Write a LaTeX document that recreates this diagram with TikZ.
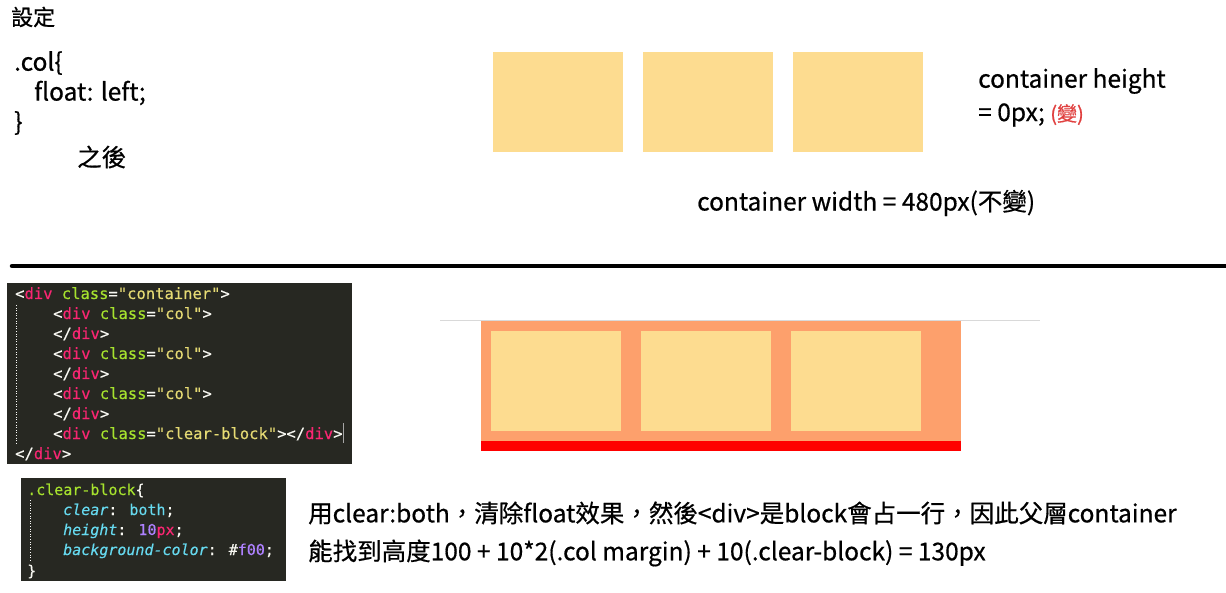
\documentclass[tikz,border=0pt]{standalone}
\usepackage{fontspec}
\setmainfont{Noto Sans CJK TC}[FakeBold=0.6]
\newfontfamily\codefont{DejaVu Sans Mono}[FakeBold=0.3]
\definecolor{colbox}{HTML}{FDDC90}
\definecolor{contbox}{HTML}{FDA06C}
\definecolor{codebg}{HTML}{272822}
\definecolor{mkpink}{HTML}{F92672}
\definecolor{mkgreen}{HTML}{A6E22E}
\definecolor{mkyellow}{HTML}{E6DB74}
\definecolor{mkwhite}{HTML}{F8F8F2}
\definecolor{mkcyan}{HTML}{66D9EF}
\definecolor{mkpurple}{HTML}{AE81FF}
\definecolor{changered}{HTML}{E0403F}
\newcommand{\tg}[1]{\textcolor{mkpink}{#1}}
\newcommand{\at}[1]{\textcolor{mkgreen}{#1}}
\newcommand{\st}[1]{\textcolor{mkyellow}{#1}}
\newcommand{\cy}[1]{\textcolor{mkcyan}{#1}}
\newcommand{\pu}[1]{\textcolor{mkpurple}{#1}}
\newcommand{\itc}[1]{\textcolor{mkcyan}{{\fontspec{DejaVu Sans Mono Oblique}[FakeBold=0.3]#1}}}
\tikzset{
  colstyle/.style={fill=colbox, draw=none, minimum width=130pt, minimum height=100pt, inner sep=0pt},
  maintext/.style={anchor=west, inner sep=0pt, font=\fontsize{24.5}{28}\selectfont},
  codeline/.style={anchor=base west, inner sep=0pt, text=mkwhite, font=\codefont\fontsize{15.5}{20}\selectfont},
  cssline/.style={anchor=base west, inner sep=0pt, text=mkwhite, font=\codefont\fontsize{15}{20}\selectfont},
}
\begin{document}
\begin{tikzpicture}[x=1pt,y=-1pt]
\useasboundingbox (0,0) rectangle (1226,593);
% top-left text
\node[maintext, font=\fontsize{22}{24}\selectfont] (setting) at (11,17) {設定};
\node[maintext] (c1) at (14,63) {.col\{};
\node[maintext] (c2) at (34,93) {float: left;};
\node[maintext] (c3) at (14,123) {\}};
\node[maintext] (after) at (77,157) {之後};
% top boxes
\node[colstyle, anchor=north west] (t1) at (493,52) {};
\node[colstyle, anchor=north west] (t2) at (643,52) {};
\node[colstyle, anchor=north west] (t3) at (793,52) {};
\node[maintext] (ch1) at (978,81) {container height};
\node[maintext] (ch2) at (978,115) {= 0px; \textcolor{changered}{\fontsize{20}{22}\selectfont(變)}};
\node[maintext] (cw) at (697,203) {container width = 480px(不變)};
% divider
\coordinate (dl) at (12,266);
\coordinate (dr) at (1226,266);
\draw[line width=4.5pt, line cap=round] (dl) -- (dr);
% html code panel
\node[fill=codebg, anchor=north west, minimum width=345pt, minimum height=181pt, inner sep=0pt] (html) at (7,283) {};
\draw[mkwhite!40, dotted, line width=0.6pt] (16,305) -- (16,445);
\draw[gray!70, line width=1pt] (343,423) -- (343,443);
\node[codeline] (h1) at (15,299) {<\tg{div} \at{class}=\st{"container"}>};
\node[codeline] (h2) at (53,319) {<\tg{div} \at{class}=\st{"col"}>};
\node[codeline] (h3) at (53,339) {</\tg{div}>};
\node[codeline] (h4) at (53,359) {<\tg{div} \at{class}=\st{"col"}>};
\node[codeline] (h5) at (53,379) {</\tg{div}>};
\node[codeline] (h6) at (53,399) {<\tg{div} \at{class}=\st{"col"}>};
\node[codeline] (h7) at (53,419) {</\tg{div}>};
\node[codeline] (h8) at (53,439) {<\tg{div} \at{class}=\st{"clear-block"}></\tg{div}>};
\node[codeline] (h9) at (15,459) {</\tg{div}>};
% css code panel
\node[fill=codebg, anchor=north west, minimum width=265pt, minimum height=103pt, inner sep=0pt] (css) at (21,478) {};
\draw[mkwhite!40, dotted, line width=0.6pt] (30,500) -- (30,562);
\node[cssline] (s1) at (27,495) {\at{.clear-block}\{};
\node[cssline] (s2) at (63,515) {\itc{clear}: \cy{both};};
\node[cssline] (s3) at (63,535) {\itc{height}: \pu{10}\tg{px};};
\node[cssline] (s4) at (63,555) {\itc{background-color}: \#\pu{f00};};
\node[cssline] (s5) at (27,576) {\}};
% result diagram
\coordinate (gl) at (440,320.5);
\coordinate (gr) at (1040,320.5);
\draw[gray!30, line width=1pt] (gl) -- (gr);
\node[fill=contbox, anchor=north west, minimum width=480pt, minimum height=120pt, inner sep=0pt] (cont) at (481,321) {};
\node[fill=red, anchor=north west, minimum width=480pt, minimum height=10pt, inner sep=0pt] (clear) at (481,441) {};
\node[colstyle, anchor=north west] (b1) at (491,331) {};
\node[colstyle, anchor=north west] (b2) at (641,331) {};
\node[colstyle, anchor=north west] (b3) at (791,331) {};
% explanation
\node[maintext] (e1) at (308,513) {用clear:both，清除float效果，然後<div>是block會占一行，因此父層container};
\node[maintext] (e2) at (308,553) {能找到高度100 + 10*2(.col margin) + 10(.clear-block) = 130px};
\end{tikzpicture}
\end{document}
